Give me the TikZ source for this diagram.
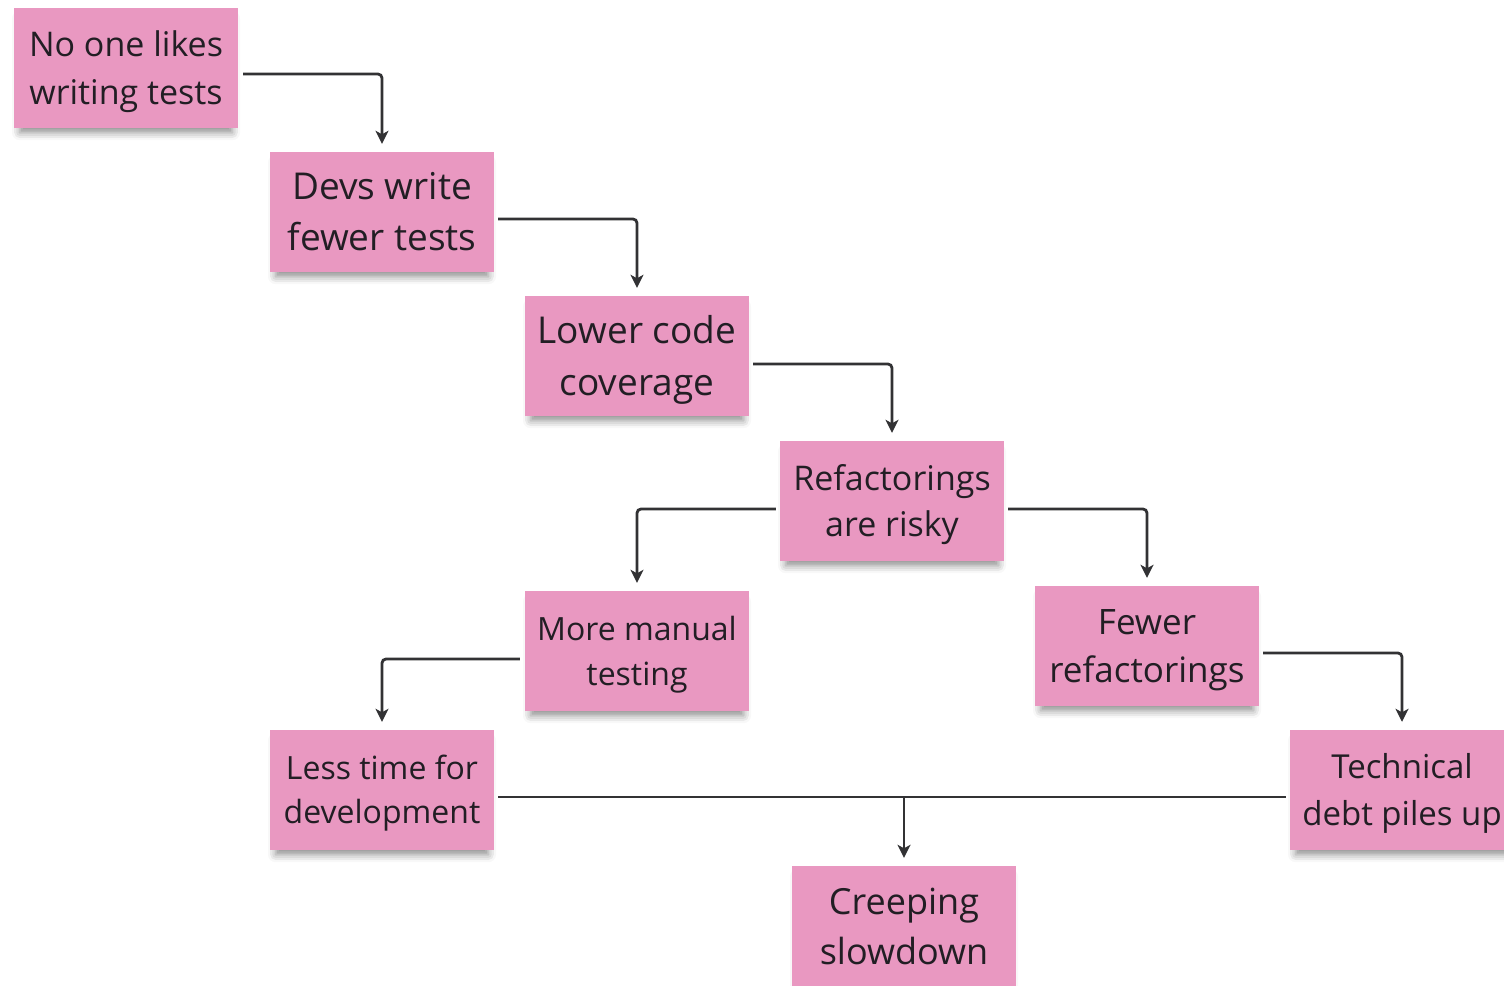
\documentclass[tikz,border=0pt]{standalone}
\usepackage{fontspec}
\setmainfont{Open Sans}
\usetikzlibrary{arrows.meta,shadows.blur,calc}
\definecolor{sticky}{RGB}{233,152,193}
\definecolor{ink}{RGB}{34,30,36}
\definecolor{wire}{RGB}{50,50,52}
\tikzset{
  note/.style={rectangle, fill=sticky, minimum width=224pt, minimum height=120pt,
    inner sep=0pt, text=ink,
    blur shadow={shadow xshift=0pt, shadow yshift=-8pt, shadow scale=0.95,
      shadow blur radius=8pt, shadow opacity=45}},
  conn/.style={draw=wire, line width=2.8pt, rounded corners=4pt,
    -{Stealth[length=13pt,width=13pt,inset=3.5pt]}, shorten >=8pt},
  plain/.style={draw=wire, line width=2.8pt}
}
\newcommand{\fs}[2]{\fontsize{#1}{#2}\selectfont}
\newcommand{\twolines}[2]{\raisebox{-3pt}[\height][\depth]{\begin{tabular}{@{}c@{}}#1\\#2\end{tabular}}}
\begin{document}
\begin{tikzpicture}[x=1pt,y=-1pt]
\useasboundingbox (0,0) rectangle (1504,985);
\clip (0,0) rectangle (1504,985);
\node[note, font=\fs{34}{48}] (a) at (126,68) {\twolines{No one likes}{writing tests}};
\node[note, font=\fs{37}{51}] (b) at (382,212) {\twolines{Devs write}{fewer tests}};
\node[note, font=\fs{37}{52}] (c) at (637,356) {\twolines{Lower code}{coverage}};
\node[note, font=\fs{34}{46}] (d) at (892,501) {\twolines{Refactorings}{are risky}};
\node[note, font=\fs{32}{45}] (e) at (637,651) {\twolines{More manual}{testing}};
\node[note, font=\fs{35}{48}] (f) at (1147,646) {\twolines{Fewer}{refactorings}};
\node[note, font=\fs{32}{44}] (g) at (382,790) {\twolines{Less time for}{development}};
\node[note, font=\fs{33}{47}] (h) at (1402,790) {\twolines{Technical}{debt piles up}};
\node[note, font=\fs{36}{50}] (i) at (904,926) {\twolines{Creeping}{slowdown}};
\draw[conn] ([xshift=5pt,yshift=-6pt]a.east) -| (b.north);
\draw[conn] ([xshift=4pt,yshift=-7pt]b.east) -| (c.north);
\draw[conn] ([xshift=4pt,yshift=-8pt]c.east) -| (d.north);
\draw[conn] ([xshift=-4pt,yshift=-8pt]d.west) -| (e.north);
\draw[conn] ([xshift=4pt,yshift=-8pt]d.east) -| (f.north);
\draw[conn] ([xshift=-5pt,yshift=-8pt]e.west) -| (g.north);
\draw[conn] ([xshift=4pt,yshift=-7pt]f.east) -| (h.north);
\draw[plain] ([xshift=4pt,yshift=-7pt]g.east) -- ([xshift=-4pt,yshift=-7pt]h.west);
\coordinate (j) at ([yshift=-7pt]g.east -| i.north);
\draw[conn] (j) -- (i.north);
\end{tikzpicture}
\end{document}
